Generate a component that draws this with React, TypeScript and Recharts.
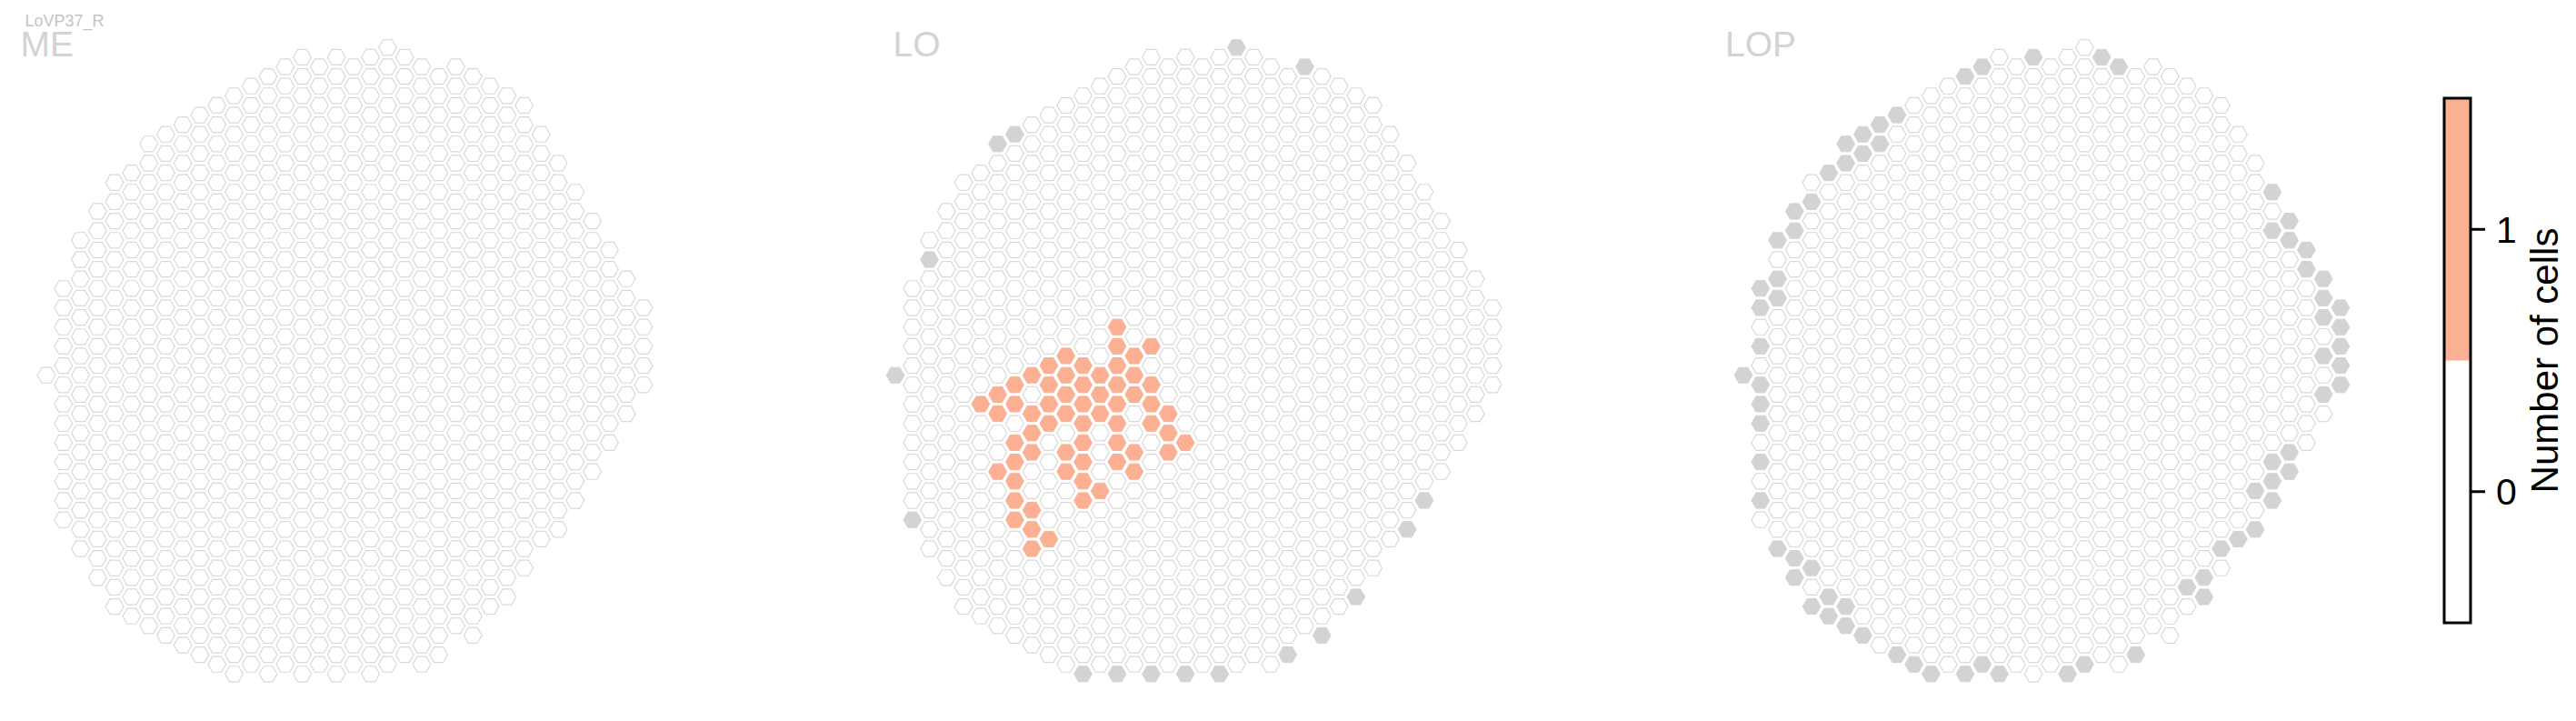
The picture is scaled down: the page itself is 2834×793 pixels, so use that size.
import React from 'react';
import { ScatterChart, Scatter, XAxis, YAxis, BarChart, ReferenceArea } from 'recharts';

// ---------- data ----------
const neuronType = 'LoVP37_R';
const regionNames = ['ME', 'LO', 'LOP'];

// hex-grid columns 0..35 of the eye map: first and last half-row index of each column
const columnTop = [34, 25, 20, 17, 14, 13, 10, 9, 8, 7, 6, 5, 4, 3, 2, 1, 2, 1, 2, 1, 0, 1, 2, 3, 2, 3, 4, 5, 6, 9, 12, 15, 18, 21, 24, 27];
const columnBottom = [34, 49, 52, 55, 58, 59, 60, 61, 62, 63, 64, 65, 64, 65, 64, 65, 64, 65, 64, 65, 64, 63, 64, 63, 60, 61, 58, 57, 54, 51, 50, 47, 44, 41, 38, 35];

// columns absent from the region (grey), as [column, halfRow]
const meMissing: [number, number][] = [];
const loMissing: [number, number][] = [
  [20, 0], [24, 2], [7, 9], [6, 10], [2, 22], [0, 34], [1, 49], [31, 47], [30, 50], [27, 57],
  [25, 61], [23, 63], [11, 65], [13, 65], [15, 65], [17, 65], [19, 65],
];
const lopMissing: [number, number][] = [
  [17, 1], [21, 1], [22, 2], [14, 2], [13, 3], [9, 7], [8, 8], [7, 9], [8, 10], [6, 10], [7, 11],
  [6, 12], [5, 13], [4, 16], [3, 17], [3, 19], [2, 20], [2, 24], [2, 26], [1, 25], [1, 27], [1, 31],
  [31, 15], [32, 18], [31, 19], [32, 20], [33, 21], [33, 23], [34, 24], [34, 26], [35, 27], [34, 28],
  [35, 29], [35, 31], [34, 32], [35, 33], [35, 35], [34, 36], [0, 34], [1, 35], [1, 37], [1, 39],
  [1, 43], [1, 47], [32, 42], [31, 43], [32, 44], [31, 45], [30, 46], [31, 47], [30, 50], [29, 51],
  [28, 52], [27, 55], [26, 56], [27, 57], [23, 63], [20, 64], [19, 65], [15, 65], [14, 64], [13, 65],
  [11, 65], [10, 64], [9, 63], [7, 61], [6, 60], [5, 59], [6, 58], [4, 58], [5, 57], [3, 55], [4, 54],
  [3, 53], [2, 52],
];

// columns with 1 cell
const meOneCell: [number, number][] = [];
const loOneCell: [number, number][] = [
  [13, 29], [13, 31], [15, 31], [10, 32], [14, 32], [9, 33], [11, 33], [13, 33], [8, 34], [10, 34],
  [12, 34], [14, 34], [7, 35], [9, 35], [11, 35], [13, 35], [15, 35], [6, 36], [10, 36], [12, 36],
  [14, 36], [5, 37], [7, 37], [9, 37], [11, 37], [13, 37], [15, 37], [6, 38], [8, 38], [10, 38],
  [12, 38], [16, 38], [9, 39], [11, 39], [13, 39], [15, 39], [8, 40], [16, 40], [7, 41], [11, 41],
  [13, 41], [17, 41], [8, 42], [10, 42], [14, 42], [16, 42], [7, 43], [11, 43], [13, 43], [6, 44],
  [10, 44], [14, 44], [7, 45], [11, 45], [12, 46], [7, 47], [11, 47], [8, 48], [7, 49], [8, 50],
  [9, 51], [8, 52],
];
const lopOneCell: [number, number][] = [];

const colorbarTicks = [0, 1];
const colorbarLabel = 'Number of cells';

// ---------- styles / layout ----------
const FONT = "'Liberation Sans', Arial, Helvetica, sans-serif";
const ORANGE = '#fbb093';
const GREY = '#d3d3d3';
const OUTLINE = '#d9d9d9';
const DX = 18.77; // px per column
const DY = 10.6; // px per half row
const Y0 = 52.3; // px of half-row 0
const HEX_R = 9.9;
const PANEL_W = 740;
const PANEL_H = 793;
const PANEL_PAD = 50;
const panelOrigins = [50.5, 984.5, 1918];
const titleX = [22, 982, 1898];

type Cell = { c: number; h: number };

function buildPanel(missing: [number, number][], ones: [number, number][]) {
  const miss = new Set(missing.map(([c, h]) => `${c},${h}`));
  const one = new Set(ones.map(([c, h]) => `${c},${h}`));
  const white: Cell[] = [];
  columnTop.forEach((top, c) => {
    for (let h = top; h <= columnBottom[c]; h += 2) {
      const k = `${c},${h}`;
      if (!miss.has(k) && !one.has(k)) white.push({ c, h });
    }
  });
  return {
    white,
    grey: missing.map(([c, h]) => ({ c, h })),
    orange: ones.map(([c, h]) => ({ c, h })),
  };
}

const panels = [
  buildPanel(meMissing, meOneCell),
  buildPanel(loMissing, loOneCell),
  buildPanel(lopMissing, lopOneCell),
];

function hexPath(cx: number, cy: number, r: number) {
  let d = '';
  for (let i = 0; i < 6; i++) {
    const a = (Math.PI / 3) * i;
    d += `${i === 0 ? 'M' : 'L'}${(cx + r * Math.cos(a)).toFixed(2)},${(cy + r * Math.sin(a)).toFixed(2)}`;
  }
  return d + 'Z';
}

const makeHex = (fill: string, stroke: string, sw: number) => (props: any) => {
  const { cx, cy } = props;
  if (cx == null || cy == null) return <g />;
  return <path d={hexPath(cx, cy, HEX_R)} fill={fill} stroke={stroke} strokeWidth={sw} />;
};

const whiteHex = makeHex('#ffffff', OUTLINE, 1.2);
const greyHex = makeHex(GREY, GREY, 1);
const orangeHex = makeHex(ORANGE, ORANGE, 1);

function Panel({ index }: { index: number }) {
  const data = panels[index];
  const left = panelOrigins[index] - PANEL_PAD;
  const xDomain = [-PANEL_PAD / DX, (PANEL_W - PANEL_PAD) / DX];
  const yDomain = [-Y0 / DY, (PANEL_H - Y0) / DY];
  const tx = titleX[index] - left;
  return (
    <div style={{ position: 'absolute', left, top: 0 }}>
      <ScatterChart width={PANEL_W} height={PANEL_H} margin={{ top: 0, right: 0, bottom: 0, left: 0 }}>
        <XAxis type="number" dataKey="c" domain={xDomain} hide allowDataOverflow />
        <YAxis type="number" dataKey="h" domain={yDomain} reversed hide width={0} allowDataOverflow />
        <Scatter data={data.white} shape={whiteHex} isAnimationActive={false} />
        <Scatter data={data.grey} shape={greyHex} isAnimationActive={false} />
        <Scatter data={data.orange} shape={orangeHex} isAnimationActive={false} />
        {index === 0 && (
          <text x={tx + 5} y={29} fontFamily={FONT} fontSize={18} fill="#c4c4c4">
            {neuronType}
          </text>
        )}
        <text x={tx} y={62} fontFamily={FONT} fontSize={39} fill="#d3d3d3">
          {regionNames[index]}
        </text>
      </ScatterChart>
    </div>
  );
}

const colorbarData = [{ name: 'cells' }];

function Colorbar() {
  const left = 2680;
  return (
    <div style={{ position: 'absolute', left, top: 0 }}>
      <BarChart width={154} height={793} data={colorbarData} margin={{ top: 108, right: 0, bottom: 108, left: 9 }}>
        <XAxis dataKey="name" hide />
        <YAxis
          orientation="right"
          type="number"
          domain={[-0.5, 1.5]}
          ticks={colorbarTicks}
          width={116}
          axisLine={false}
          tickSize={16}
          tickMargin={12}
          tickLine={{ stroke: '#000', strokeWidth: 3 }}
          tick={{ fill: '#000', fontSize: 41, fontFamily: FONT }}
          allowDataOverflow
          label={{
            content: (p: any) => {
              const vb = p.viewBox || { x: 38, y: 108, width: 116, height: 577 };
              const x = vb.x + vb.width - 20;
              const y = vb.y + vb.height / 2;
              return (
                <text x={x} y={y} transform={`rotate(-90, ${x}, ${y})`} textAnchor="middle" fontFamily={FONT} fontSize={42} fill="#000">
                  {colorbarLabel}
                </text>
              );
            },
          }}
        />
        <ReferenceArea y1={-0.5} y2={0.5} fill="#ffffff" fillOpacity={1} stroke="none" />
        <ReferenceArea y1={0.5} y2={1.5} fill={ORANGE} fillOpacity={1} stroke="none" />
        <ReferenceArea y1={-0.5} y2={1.5} fill="none" stroke="#000" strokeWidth={3} />
      </BarChart>
    </div>
  );
}

export default function App() {
  return (
    <div style={{ position: 'absolute', left: 0, top: 0, width: 2834, height: 793, background: '#fff' }}>
      <Panel index={0} />
      <Panel index={1} />
      <Panel index={2} />
      <Colorbar />
    </div>
  );
}
